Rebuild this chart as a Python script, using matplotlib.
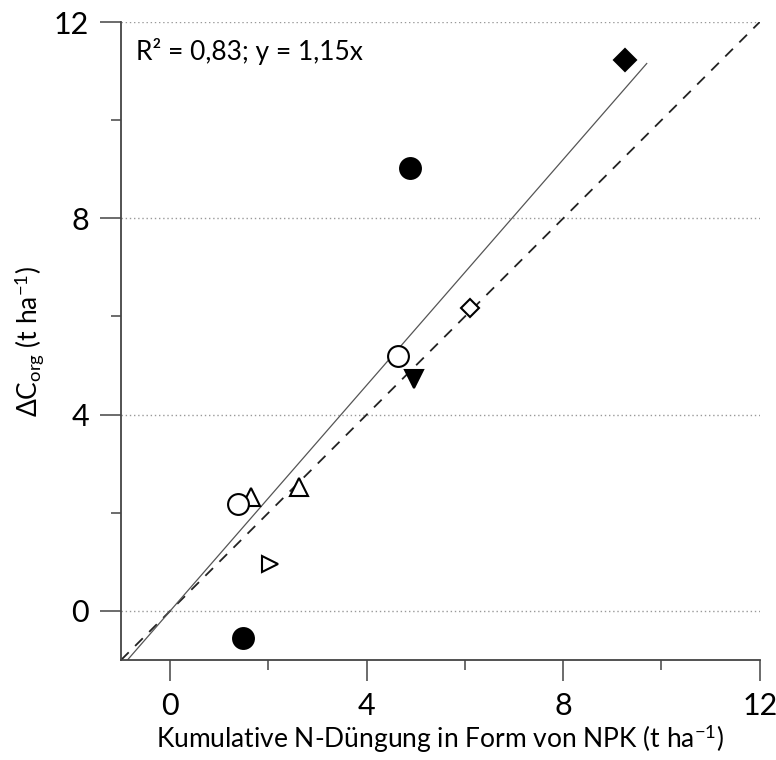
import numpy as np
from matplotlib import pyplot as plt

plt.rcParams['font.family'] = ['Lato', 'DejaVu Sans']
plt.rcParams['mathtext.fontset'] = 'custom'
plt.rcParams['mathtext.rm'] = 'Lato'
plt.rcParams['mathtext.it'] = 'Lato:italic'

# Werte (x = kumulative N-Duengung, y = Delta C_org), je Markertyp
x_vals = [9.25, 4.88, 4.63, 6.10, 4.96, 2.62, 1.65, 1.38, 2.03, 1.48]
y_vals = [11.22, 9.02, 5.19, 6.17, 4.72, 2.53, 2.32, 2.18, 0.96, -0.55]
markers = ['D', 'o', 'o', 'D', 'v', '^', '^', 'o', '>', 'o']
filled = [True, True, False, False, True, False, False, False, False, True]
sizes = [11, 15, 15, 9, 13, 13, 13, 15, 12, 15]

slope = 1.15
fit_range = [-0.87, 9.7]
ticks = [0, 4, 8, 12]
minor_ticks = [2, 6, 10]

fig = plt.figure(figsize=(7.76, 7.6), dpi=100)
ax = fig.add_axes([0.156, 0.1316, 0.823, 0.8394])

for y in ticks:
    ax.axhline(y, color='#999999', lw=1.0, ls=(0, (1, 2)), zorder=0)

ax.plot([-1, 12], [-1, 12], color='#222222', lw=1.3, ls=(0, (6, 5)), zorder=1)
fx = np.array(fit_range)
ax.plot(fx, slope * fx, color='#555555', lw=0.9, zorder=1)

for x, y, m, f, s in zip(x_vals, y_vals, markers, filled, sizes):
    ax.plot(x, y, marker=m, ms=s, mfc='black' if f else 'white',
            mec='black', mew=1.5, ls='none', zorder=3)

ax.text(-0.7, 11.4, 'R² = 0,83; y = 1,15x', fontsize=19, va='center', ha='left')

ax.set_xlim(-1, 12)
ax.set_ylim(-1, 12)
ax.set_xticks(ticks)
ax.set_yticks(ticks)
ax.set_xticks(minor_ticks, minor=True)
ax.set_yticks(minor_ticks, minor=True)
ax.tick_params(axis='both', which='major', direction='out', length=15,
               width=1.1, color='#444444', labelsize=22, pad=8)
ax.tick_params(axis='both', which='minor', direction='out', length=7,
               width=1.1, color='#444444')
for side in ['top', 'right']:
    ax.spines[side].set_visible(False)
for side in ['left', 'bottom']:
    ax.spines[side].set_color('#444444')
    ax.spines[side].set_linewidth(1.3)

ax.set_xlabel('Kumulative N-Düngung in Form von NPK (t ha$^{-1}$)', fontsize=19, labelpad=2)
ax.set_ylabel(r'$\Delta$C$_{\mathrm{org}}$ (t ha$^{-1}$)', fontsize=19, labelpad=6)

fig.savefig('out.png', dpi=100)
